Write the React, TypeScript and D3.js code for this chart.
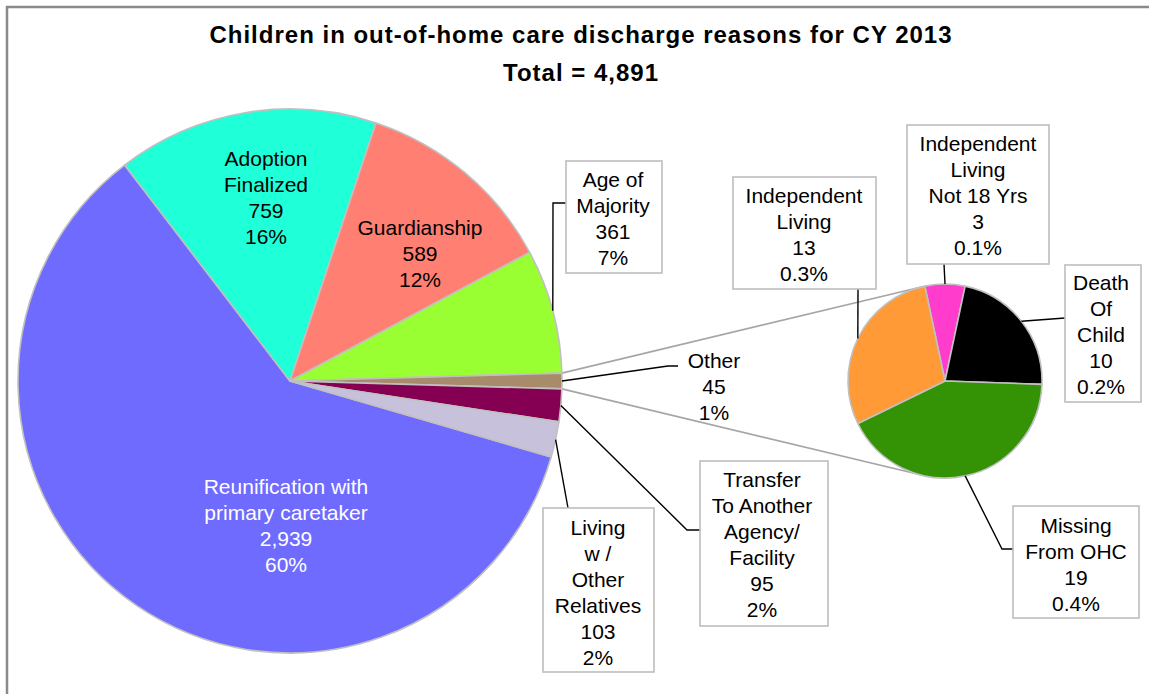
import React from "react";
import * as d3 from "d3";

// ---------- data ----------
const titleLines = ["Children in out-of-home care discharge reasons for CY 2013", "Total = 4,891"];

const mainNames = [
  ["Reunification with", "primary caretaker"],
  ["Adoption", "Finalized"],
  ["Guardianship"],
  ["Age of", "Majority"],
  ["Other"],
  ["Transfer", "To Another", "Agency/", "Facility"],
  ["Living", "w /", "Other", "Relatives"],
];
const mainValues = [2939, 759, 589, 361, 45, 95, 103];
const mainColors = ["#6F6BFF", "#1FFFD8", "#FF7F72", "#99FF33", "#A88B6A", "#850053", "#C8C1DB"];
const otherIndex = 4;

const subNames = [
  ["Independent", "Living", "Not 18 Yrs"],
  ["Death", "Of", "Child"],
  ["Missing", "From OHC"],
  ["Independent", "Living"],
];
const subValues = [3, 10, 19, 13];
const subColors = ["#FF3CCC", "#000000", "#339304", "#FF9A36"];

// ---------- layout ----------
const W = 1149;
const H = 694;
const C1 = { x: 290, y: 381, r: 272 };
const C2 = { x: 945, y: 381, r: 97 };
const LH = 26;
const FS = 21;

type Lab = {
  cx: number;
  y0: number;
  fill?: string;
  box?: [number, number, number, number];
  leader?: [number, number][];
};

const mainLayout: Lab[] = [
  { cx: 286, y0: 486, fill: "#ffffff" },
  { cx: 266, y0: 158 },
  { cx: 420, y0: 227 },
  { cx: 613, y0: 179, box: [566, 161, 662, 273], leader: [[553, 203], [566, 203]] },
  { cx: 714, y0: 360, leader: [[668, 366], [678, 366]] },
  { cx: 762, y0: 479, box: [700, 461, 828, 626], leader: [[687, 530], [700, 530]] },
  { cx: 598, y0: 527, box: [543, 508, 654, 672], leader: [[568, 508]] },
];

const subLayout: Lab[] = [
  { cx: 978, y0: 143, box: [907, 125, 1049, 264], leader: [[944, 264]] },
  { cx: 1101, y0: 282, box: [1065, 265, 1141, 402], leader: [[1065, 318]] },
  { cx: 1076, y0: 525, box: [1013, 506, 1139, 618], leader: [[1002, 549], [1013, 549]] },
  { cx: 804, y0: 195, box: [733, 177, 876, 289], leader: [[858, 289]] },
];

const total = d3.sum(mainValues);
const fmtInt = d3.format(",");

function tangentPoints(px: number, py: number) {
  const dx = px - C2.x;
  const dy = py - C2.y;
  const d = Math.hypot(dx, dy);
  const base = Math.atan2(dy, dx);
  const off = Math.acos(C2.r / d);
  const a1 = base + off;
  const a2 = base - off;
  return [
    [C2.x + C2.r * Math.cos(a1), C2.y + C2.r * Math.sin(a1)],
    [C2.x + C2.r * Math.cos(a2), C2.y + C2.r * Math.sin(a2)],
  ];
}

function LabelText({ lab, lines }: { lab: Lab; lines: string[] }) {
  return (
    <text
      x={lab.cx}
      textAnchor="middle"
      fontFamily="'Liberation Sans', Arial, sans-serif"
      fontSize={FS}
      fill={lab.fill || "#000"}
    >
      {lines.map((l, i) => (
        <tspan key={i} x={lab.cx} y={lab.y0 + i * LH} dy="0.36em">
          {l}
        </tspan>
      ))}
    </text>
  );
}

export default function App() {
  const sum1 = d3.sum(mainValues.slice(0, otherIndex)) + mainValues[otherIndex] / 2;
  const start1 = Math.PI / 2 - (sum1 / total) * 2 * Math.PI;
  const pie1 = d3.pie<number>().sort(null).startAngle(start1).endAngle(start1 + 2 * Math.PI)(mainValues);

  const subTotal = d3.sum(subValues);
  const start2 = -(subValues[0] / 2 / subTotal) * 2 * Math.PI;
  const pie2 = d3.pie<number>().sort(null).startAngle(start2).endAngle(start2 + 2 * Math.PI)(subValues);

  const arc1 = d3.arc<d3.PieArcDatum<number>>().innerRadius(0).outerRadius(C1.r);
  const arc2 = d3.arc<d3.PieArcDatum<number>>().innerRadius(0).outerRadius(C2.r);

  const pt = (c: { x: number; y: number; r: number }, a: number): [number, number] => [
    c.x + c.r * Math.sin(a),
    c.y - c.r * Math.cos(a),
  ];

  const other = pie1[otherIndex];
  const pTop = pt(C1, other.startAngle);
  const pBot = pt(C1, other.endAngle);
  const tTop = tangentPoints(pTop[0], pTop[1]);
  const tBot = tangentPoints(pBot[0], pBot[1]);
  // pick the upper tangent for top, lower for bottom
  const topT = tTop.reduce((a, b) => (a[1] < b[1] ? a : b));
  const botT = tBot.reduce((a, b) => (a[1] > b[1] ? a : b));

  const line = d3.line();

  return (
    <svg width={W} height={H} style={{ position: "absolute", left: 0, top: 0, background: "#fff" }}>
      <rect x={0} y={0} width={W} height={H} fill="#fff" />
      <path d={`M7,${H} V7 H${W}`} fill="none" stroke="#8a8a8a" strokeWidth={2.5} />

      {titleLines.map((t, i) => (
        <text
          key={i}
          x={581}
          y={43 + i * 38}
          textAnchor="middle"
          fontFamily="'Liberation Sans', Arial, sans-serif"
          fontWeight="bold"
          fontSize={24}
          letterSpacing={1}
        >
          {t}
        </text>
      ))}

      {/* connector lines */}
      <path d={line([pTop, topT as [number, number]]) || ""} stroke="#a6a6a6" strokeWidth={1.6} fill="none" />
      <path d={line([pBot, botT as [number, number]]) || ""} stroke="#a6a6a6" strokeWidth={1.6} fill="none" />

      <g transform={`translate(${C1.x},${C1.y})`}>
        {pie1.map((d, i) => (
          <path key={i} d={arc1(d) || ""} fill={mainColors[i]} stroke="#c0c0c0" strokeWidth={1.6} strokeLinejoin="round" />
        ))}
      </g>
      <g transform={`translate(${C2.x},${C2.y})`}>
        {pie2.map((d, i) => (
          <path key={i} d={arc2(d) || ""} fill={subColors[i]} stroke="#c0c0c0" strokeWidth={1.6} strokeLinejoin="round" />
        ))}
      </g>

      {/* main labels */}
      {pie1.map((d, i) => {
        const lab = mainLayout[i];
        const mid = (d.startAngle + d.endAngle) / 2;
        const lines = [...mainNames[i], fmtInt(mainValues[i]), d3.format(".0%")(mainValues[i] / total)];
        return (
          <g key={i}>
            {lab.leader && (
              <path d={line([pt(C1, mid), ...lab.leader]) || ""} fill="none" stroke="#000" strokeWidth={1.4} />
            )}
            {lab.box && (
              <rect
                x={lab.box[0]}
                y={lab.box[1]}
                width={lab.box[2] - lab.box[0]}
                height={lab.box[3] - lab.box[1]}
                fill="#fff"
                stroke="#bdbdbd"
                strokeWidth={1.6}
              />
            )}
            <LabelText lab={lab} lines={lines} />
          </g>
        );
      })}

      {/* secondary labels */}
      {pie2.map((d, i) => {
        const lab = subLayout[i];
        const mid = (d.startAngle + d.endAngle) / 2;
        const lines = [...subNames[i], fmtInt(subValues[i]), d3.format(".1%")(subValues[i] / total)];
        return (
          <g key={i}>
            {lab.leader && (
              <path d={line([pt(C2, mid), ...lab.leader]) || ""} fill="none" stroke="#000" strokeWidth={1.4} />
            )}
            {lab.box && (
              <rect
                x={lab.box[0]}
                y={lab.box[1]}
                width={lab.box[2] - lab.box[0]}
                height={lab.box[3] - lab.box[1]}
                fill="#fff"
                stroke="#bdbdbd"
                strokeWidth={1.6}
              />
            )}
            <LabelText lab={lab} lines={lines} />
          </g>
        );
      })}
    </svg>
  );
}
